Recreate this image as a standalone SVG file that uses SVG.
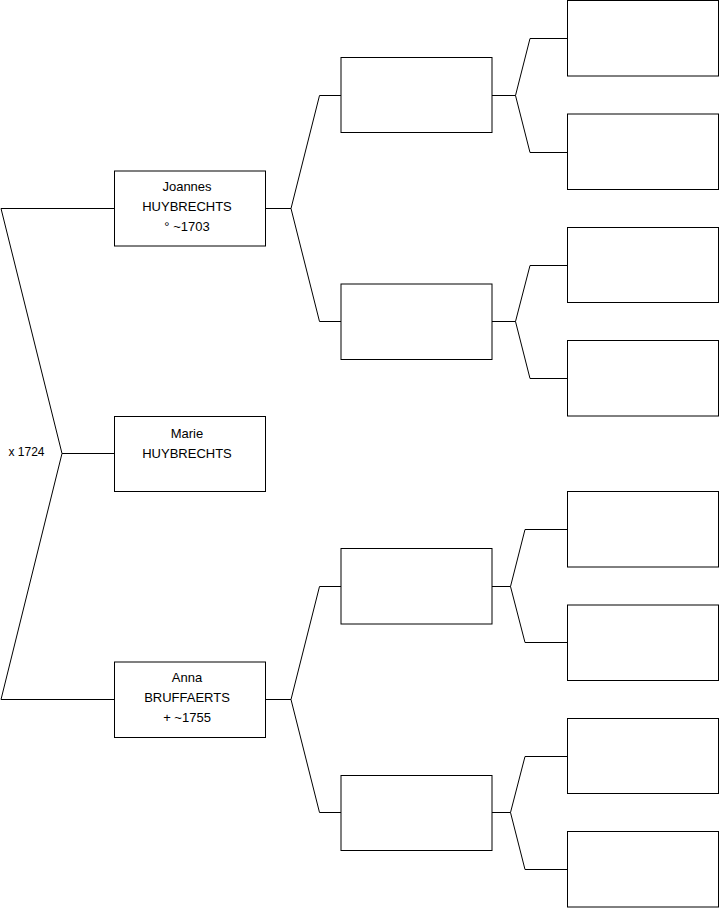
<svg xmlns="http://www.w3.org/2000/svg" width="719" height="908" viewBox="0 0 719 908">
<style>
.box{fill:#fff;stroke:#000;stroke-width:1}
.ln{fill:none;stroke:#000;stroke-width:1}
text{font-family:"Liberation Sans",Arial,sans-serif;font-size:13px;fill:#000;text-anchor:middle}
</style>
<rect width="719" height="908" fill="#fff"/>
<g id="connectors">
<polyline class="ln" points="114,208.5 1,208.5 62,453.5 1,699.5 114,699.5"/>
<line class="ln" x1="62" y1="453.5" x2="114" y2="453.5"/>
<polyline class="ln" points="341,95.5 319.5,95.5 291,208.5 319.5,321.5 341,321.5"/>
<line class="ln" x1="265" y1="208.5" x2="291" y2="208.5"/>
<polyline class="ln" points="341,586.5 319.5,586.5 291,699.5 319.5,812.5 341,812.5"/>
<line class="ln" x1="265" y1="699.5" x2="291" y2="699.5"/>
<polyline class="ln" points="567,38.5 530,38.5 515.5,95.5 530,152.5 567,152.5"/>
<line class="ln" x1="492" y1="95.5" x2="515.5" y2="95.5"/>
<polyline class="ln" points="567,265.5 530,265.5 515.5,321.5 530,378.5 567,378.5"/>
<line class="ln" x1="492" y1="321.5" x2="515.5" y2="321.5"/>
<polyline class="ln" points="567,529.5 525,529.5 510.5,586.5 525,642.5 567,642.5"/>
<line class="ln" x1="492" y1="586.5" x2="510.5" y2="586.5"/>
<polyline class="ln" points="567,756.5 525,756.5 510.5,812.5 525,869.5 567,869.5"/>
<line class="ln" x1="492" y1="812.5" x2="510.5" y2="812.5"/>
</g>
<text id="marriage" x="26.5" y="456" style="font-size:12px">x 1724</text>
<g id="joannes">
<rect class="box" x="114.5" y="171" width="151" height="75"/>
<text x="187" y="191">Joannes</text>
<text x="187" y="211">HUYBRECHTS</text>
<text x="187" y="231">° ~1703</text>
</g>
<g id="marie">
<rect class="box" x="114.5" y="416.5" width="151" height="75"/>
<text x="187" y="438">Marie</text>
<text x="187" y="458">HUYBRECHTS</text>
</g>
<g id="anna">
<rect class="box" x="114.5" y="662" width="151" height="75.5"/>
<text x="187" y="682">Anna</text>
<text x="187" y="702">BRUFFAERTS</text>
<text x="187" y="722">+ ~1755</text>
</g>
<g id="g2a"><rect class="box" x="341" y="57.5" width="151" height="75"/></g>
<g id="g2b"><rect class="box" x="341" y="284" width="151" height="75.5"/></g>
<g id="g2c"><rect class="box" x="341" y="548.5" width="151" height="75.5"/></g>
<g id="g2d"><rect class="box" x="341" y="775.5" width="151" height="75"/></g>
<g id="g3a"><rect class="box" x="567.5" y="0.5" width="151" height="75.5"/></g>
<g id="g3b"><rect class="box" x="567.5" y="114" width="151" height="75.5"/></g>
<g id="g3c"><rect class="box" x="567.5" y="227.5" width="151" height="75"/></g>
<g id="g3d"><rect class="box" x="567.5" y="340.5" width="151" height="75.5"/></g>
<g id="g3e"><rect class="box" x="567.5" y="491.5" width="151" height="75.5"/></g>
<g id="g3f"><rect class="box" x="567.5" y="605" width="151" height="75.5"/></g>
<g id="g3g"><rect class="box" x="567.5" y="718.5" width="151" height="75"/></g>
<g id="g3h"><rect class="box" x="567.5" y="831.5" width="151" height="75.5"/></g>
</svg>
